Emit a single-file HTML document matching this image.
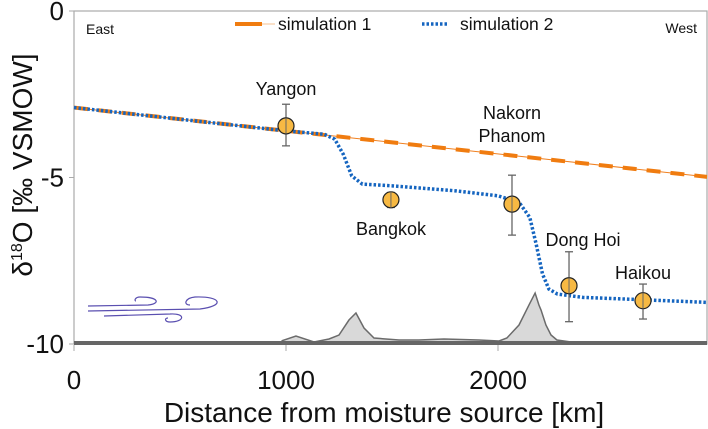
<!DOCTYPE html>
<html><head><meta charset="utf-8"><style>
body{margin:0;background:#fff;}
svg{display:block;font-family:"Liberation Sans",sans-serif;}
</style></head><body>
<svg id="chart" width="708" height="429">
<g id="terrain-layer"></g>
<g id="grid"></g>
<g id="series"></g>
<g id="points"></g>
</svg>
<script>
const xTicks=[0,1000,2000];
const yTicks=[0,-5,-10];
const sim1X=[0,2986];
const sim1Y=[-2.9,-4.98];
const sim2X=[0,1000,1180,1230,1270,1310,1360,1500,1800,2000,2100,2150,2180,2210,2240,2280,2400,2600,2986];
const sim2Y=[-2.9,-3.6,-3.7,-3.85,-4.3,-4.95,-5.2,-5.25,-5.4,-5.55,-5.75,-6.2,-7.0,-7.9,-8.35,-8.5,-8.6,-8.65,-8.75];
const siteNames=["Yangon","Bangkok","Nakorn Phanom","Dong Hoi","Haikou"];
const siteX=[1000,1495,2066,2335,2684];
const siteY=[-3.45,-5.67,-5.8,-8.25,-8.7];
const errLo=[-4.05,-5.9,-6.73,-9.33,-9.25];
const errHi=[-2.8,-5.45,-4.93,-7.23,-8.2];
const terrX=[982,1047,1132,1203,1250,1297,1330,1368,1415,1533,1627,1745,1910,2005,2042,2099,2146,2175,2193,2203,2226,2250,2278,2344,2486,2627];
const terrY=[-9.9,-9.76,-9.94,-9.85,-9.73,-9.28,-9.07,-9.52,-9.82,-9.88,-9.88,-9.85,-9.88,-9.91,-9.82,-9.43,-8.83,-8.47,-8.83,-8.98,-9.43,-9.73,-9.88,-9.94,-10,-10];
const X0=74,X1=707,Y0=11,Y1=344;
const xs=v=>X0+v*0.212;
const ys=v=>Y0+(-v)*(Y1-Y0)/10;
const NS='http://www.w3.org/2000/svg';
function mk(tag,attrs,parent,text){const e=document.createElementNS(NS,tag);for(const k in attrs)e.setAttribute(k,attrs[k]);if(text!==undefined)e.textContent=text;parent.appendChild(e);return e;}
const tl=document.getElementById('terrain-layer'),gr=document.getElementById('grid'),se=document.getElementById('series'),pt=document.getElementById('points');
let d='M'+xs(terrX[0])+','+ys(-10);
terrX.forEach((x,i)=>{d+=' L'+xs(x)+','+ys(terrY[i]);});
d+=' L'+xs(terrX[terrX.length-1])+','+ys(-10)+' Z';
const ter=mk('path',{d:d,fill:'#d9d9d9',stroke:'#6b6b6b','stroke-width':1.5},tl);


const fr=mk('rect',{x:X0,y:Y0,width:X1-X0,height:Y1-Y0,fill:'none',stroke:'#aaa','stroke-width':1.2},gr);


const base=mk('line',{x1:X0,x2:X1,y1:Y1-1,y2:Y1-1,stroke:'#666','stroke-width':4},gr);


xTicks.forEach(t=>{
 mk('line',{x1:xs(t),x2:xs(t),y1:Y1+1,y2:Y1+7,stroke:'#aaa'},gr);
 const l=mk('text',{x:xs(t),y:389,'font-size':26,'text-anchor':'middle',fill:'#111'},gr,String(t));
 
 
});
yTicks.forEach(t=>{
 mk('line',{x1:X0-5,x2:X0,y1:ys(t),y2:ys(t),stroke:'#aaa'},gr);
 const l=mk('text',{x:X0-10,y:ys(t)+9,'font-size':26,'text-anchor':'end',fill:'#111'},gr,String(t));
 
 
});
const xt=mk('text',{x:384,y:422,'font-size':28,'text-anchor':'middle',fill:'#111'},gr,'Distance from moisture source [km]');


const yt=mk('text',{x:0,y:0,'font-size':28,'text-anchor':'middle',fill:'#111',transform:'translate(32,165) rotate(-90)'},gr);


mk('tspan',{},yt,'δ');mk('tspan',{'font-size':16,dy:-10},yt,'18');mk('tspan',{dy:10},yt,'O [‰ VSMOW]');
const e1=mk('text',{x:86,y:34,'font-size':14,fill:'#111'},gr,'East');


const w1=mk('text',{x:697,y:33,'font-size':14,'text-anchor':'end',fill:'#111'},gr,'West');


const wind=mk('g',{fill:'none',stroke:'#5a4fb0','stroke-width':1.2},gr);


mk('path',{d:'M88,311 L200,309 C225,306 222,296 195,297 C185,298 183,305 190,305'},wind);
mk('path',{d:'M104,316 L170,314 C186,313 185,322 170,322 C165,322 164,318 168,318'},wind);
mk('path',{d:'M88,306 L148,305 C160,304 160,297 140,297 C135,297 134,301 136,301'},wind);
let p1='';sim1X.forEach((x,i)=>{p1+=(i?' L':'M')+xs(x)+','+ys(sim1Y[i]);});
mk('path',{d:p1,fill:'none',stroke:'#f08020','stroke-width':1},se);
const s1=mk('path',{d:p1,fill:'none',stroke:'#f07c10','stroke-width':4,'stroke-dasharray':'14,10'},se);


let p2='';sim2X.forEach((x,i)=>{p2+=(i?' L':'M')+xs(x)+','+ys(sim2Y[i]);});
const s2=mk('path',{d:p2,fill:'none',stroke:'#1565c0','stroke-width':3.5,'stroke-dasharray':'2.5,2','stroke-linejoin':'round'},se);


const lg=mk('g',{},gr);


mk('line',{x1:235,x2:262,y1:24,y2:24,stroke:'#f07c10','stroke-width':4},lg);
mk('line',{x1:262,x2:275,y1:24,y2:24,stroke:'#f5c090','stroke-width':1},lg);
mk('text',{x:278,y:30,'font-size':17.5,fill:'#111'},lg,'simulation 1');
mk('line',{x1:422,x2:448,y1:24,y2:24,stroke:'#1565c0','stroke-width':3.5,'stroke-dasharray':'2.5,2'},lg);
mk('text',{x:460,y:30,'font-size':17.5,fill:'#111'},lg,'simulation 2');
siteX.forEach((x,i)=>{
 const g=mk('g',{},pt);
 
 
 const cx=xs(x),cy=ys(siteY[i]);
 mk('line',{x1:cx,x2:cx,y1:ys(errHi[i]),y2:ys(errLo[i]),stroke:'#666','stroke-width':1.3},g);
 mk('line',{x1:cx-4,x2:cx+4,y1:ys(errHi[i]),y2:ys(errHi[i]),stroke:'#666','stroke-width':1.3},g);
 mk('line',{x1:cx-4,x2:cx+4,y1:ys(errLo[i]),y2:ys(errLo[i]),stroke:'#666','stroke-width':1.3},g);
 mk('circle',{cx:cx,cy:cy,r:8,fill:'#f7b943',stroke:'#222','stroke-width':1.2},g);
 mk('line',{x1:cx,x2:cx,y1:cy-8,y2:cy+8,stroke:'#666','stroke-width':1},g);
});
const labs=[["Yangon",286,95],["Bangkok",391,235],["Nakorn",512,119],["Phanom",512,142],["Dong Hoi",583,246],["Haikou",643,279]];
labs.forEach(l=>{
 const t=mk('text',{x:l[1],y:l[2],'font-size':18,'text-anchor':'middle',fill:'#111'},pt,l[0]);
 
 
});
</script>
</body></html>
